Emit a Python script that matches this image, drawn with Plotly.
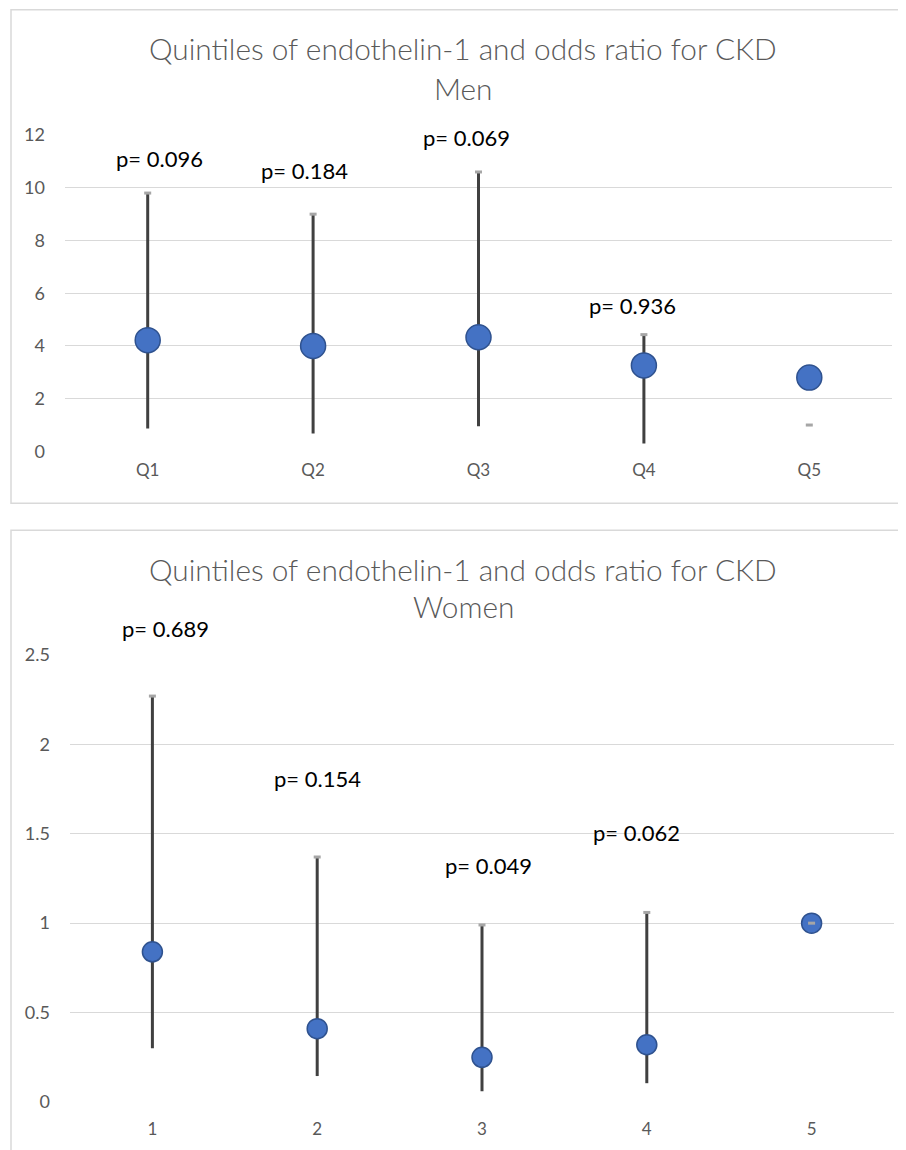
import plotly.graph_objects as go

# observed page mapping: screen_x = 8 + fig_x ; screen_y = S * (T + fig_y)
PAGE_W = 906
ML = 8
S, T = 0.983, 19.0
W, H = PAGE_W - 2 * ML, 1150

# ---- data: Men ----
men_cats = ["Q1", "Q2", "Q3", "Q4", "Q5"]
men_or = [4.22, 4.0, 4.33, 3.26, 2.8]
men_high = [9.8, 9.0, 10.6, 4.43, 1.0]
men_low = [0.87, 0.68, 0.95, 0.3, 1.0]
men_p = ["p= 0.096", "p= 0.184", "p= 0.069", "p= 0.936"]
men_p_y = [11.13, 10.67, 11.92, 5.53]

# ---- data: Women ----
women_cats = ["1", "2", "3", "4", "5"]
women_or = [0.84, 0.41, 0.25, 0.32, 1.0]
women_high = [2.27, 1.37, 0.99, 1.06, 1.0]
women_low = [0.30, 0.145, 0.06, 0.105, 1.0]
women_p = ["p= 0.689", "p= 0.154", "p= 0.049", "p= 0.062"]
women_p_y = [2.65, 1.808, 1.322, 1.507]

men_ticks = [0, 2, 4, 6, 8, 10, 12]
men_range = [0, 12]
women_ticks = [0, 0.5, 1, 1.5, 2, 2.5]
women_tick_text = ["0", "0.5", "1", "1.5", "2", "2.5"]
women_range = [0, 2.5]

FONT = "Lato"
TITLE_FONT = "Lato Light, Lato"
BLUE = "#4472C4"
BLUE_EDGE = "#2F528F"
BAR = "#404040"
GRID = "#D9D9D9"
TXT = "#595959"


def seg(n, lo, hi):
    xs, ys = [], []
    for i, a, b in zip(range(n), lo, hi):
        xs += [i, i, None]
        ys += [a, b, None]
    return xs, ys


fig = go.Figure()

for cats, ors, hi, lo, xa, ya, msize in [
    (men_cats, men_or, men_high, men_low, "x", "y", 25),
    (women_cats, women_or, women_high, women_low, "x2", "y2", 20),
]:
    idx = list(range(len(cats)))
    xs, ys = seg(len(cats), lo, hi)
    fig.add_trace(go.Scatter(x=xs, y=ys, mode="lines", xaxis=xa, yaxis=ya,
                             line=dict(color=BAR, width=3), hoverinfo="skip",
                             showlegend=False))
    fig.add_trace(go.Scatter(x=idx, y=ors, mode="markers", xaxis=xa, yaxis=ya,
                             marker=dict(size=msize, color=BLUE,
                                         line=dict(color=BLUE_EDGE, width=1.5)),
                             showlegend=False, cliponaxis=False))
    fig.add_trace(go.Scatter(x=idx, y=hi, mode="markers", xaxis=xa, yaxis=ya,
                             marker=dict(symbol="line-ew", size=5,
                                         line=dict(color="#A6A6A6", width=3)),
                             showlegend=False, cliponaxis=False))


def pxx(p):
    return (p - ML) / W


def py(p):
    fy = p / S - T
    return (H - fy) / H


def px_x(a, b):
    return [pxx(a), pxx(b)]


def px_y(top, bottom):
    return [py(bottom), py(top)]


axis_common = dict(showgrid=True, gridcolor=GRID, gridwidth=1, zeroline=False,
                   showline=False, ticks="", ticklabelstandoff=19,
                   tickfont=dict(family=FONT, size=18, color=TXT))


def xcommon(standoff):
    return dict(range=[-0.5, 4.5], showgrid=False, zeroline=False, ticks="",
                ticklabelstandoff=standoff,
                tickfont=dict(family=FONT, size=17, color=TXT))


fig.update_layout(
    width=W, height=H,
    margin=dict(l=0, r=0, t=0, b=0),
    paper_bgcolor="white", plot_bgcolor="white",
    showlegend=False,
    xaxis=dict(domain=px_x(65, 892), anchor="y", tickvals=list(range(5)),
               ticktext=men_cats, **xcommon(7)),
    yaxis=dict(domain=px_y(134, 451), anchor="x", range=men_range,
               tickvals=men_ticks, **axis_common),
    xaxis2=dict(domain=px_x(70, 894), anchor="y2", tickvals=list(range(5)),
                ticktext=women_cats, **xcommon(15)),
    yaxis2=dict(domain=px_y(655, 1103), anchor="x2", range=women_range,
                tickvals=women_ticks, ticktext=women_tick_text, **axis_common),
)

# panel borders
fig.add_shape(type="rect", xref="paper", yref="paper",
              x0=pxx(11), x1=1.05, y0=py(503), y1=py(8.5),
              line=dict(color=GRID, width=1.5), fillcolor="rgba(0,0,0,0)")
fig.add_shape(type="rect", xref="paper", yref="paper",
              x0=pxx(11), x1=1.05, y0=-0.05, y1=py(530),
              line=dict(color=GRID, width=1.5), fillcolor="rgba(0,0,0,0)")

# titles
for txt, ypx in [("Quintiles of endothelin-1 and odds ratio for CKD", 47),
                 ("Men", 87),
                 ("Quintiles of endothelin-1 and odds ratio for CKD", 569),
                 ("Women", 606)]:
    fig.add_annotation(text=txt, xref="paper", yref="paper", x=pxx(463),
                       y=py(ypx), showarrow=False, xanchor="center",
                       yanchor="middle",
                       font=dict(family=TITLE_FONT, size=29.8, color=TXT))

# p-values (positioned via the axes' domain so labels above the range still show)
men_shift = [12, -9, -12, -11]
for i, (t, y, s) in enumerate(zip(men_p, men_p_y, men_shift)):
    fig.add_annotation(text=t, x=i, y=(y - men_range[0]) / (men_range[1] - men_range[0]),
                       xref="x", yref="y domain", showarrow=False, xshift=s,
                       xanchor="center", yanchor="middle",
                       font=dict(family=FONT, size=22, color="black"))
women_shift = [13, 0, 6, -10]
for i, (t, y, s) in enumerate(zip(women_p, women_p_y, women_shift)):
    fig.add_annotation(text=t, x=i, y=(y - women_range[0]) / (women_range[1] - women_range[0]),
                       xref="x2", yref="y2 domain", showarrow=False, xshift=s,
                       xanchor="center", yanchor="middle",
                       font=dict(family=FONT, size=22, color="black"))

fig.write_html("out.html")
